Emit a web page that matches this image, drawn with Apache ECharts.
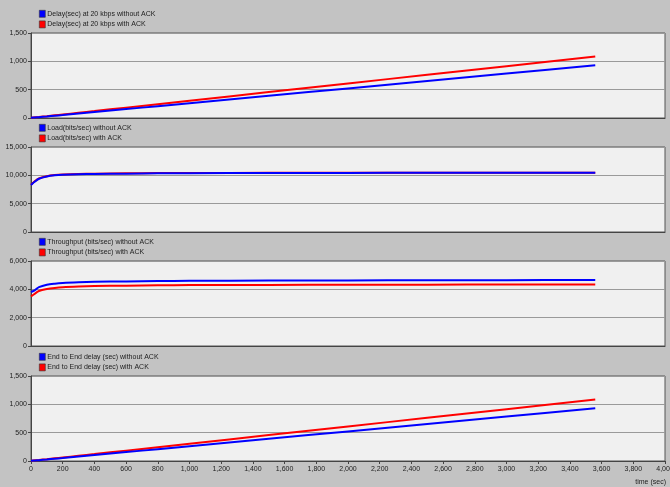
<!DOCTYPE html>
<html>
<head>
<meta charset="utf-8">
<script src="https://cdn.jsdelivr.net/npm/echarts@6/dist/echarts.min.js"></script>
<style>
  html, body { margin: 0; padding: 0; background: #c3c3c3; }
  #chart { width: 670px; height: 487px; }
</style>
</head>
<body>
<div id="chart"></div>
<script>
// Simulation time samples (sec)
const timeSec = [0, 25, 50, 100, 150, 200, 300, 400, 600, 800, 1000, 1500, 2000, 2500, 3000, 3560];

// Delay (sec) at 20 kbps
const delayNoAck   = [5, 10, 15, 27, 40, 52, 78, 104, 157, 209, 261, 392, 522, 653, 784, 930];
const delayAck     = [5, 12, 18, 32, 47, 62, 92, 122, 183, 244, 305, 457, 610, 762, 914, 1085];

// Load (bits/sec)
const loadNoAck    = [8300, 8900, 9400, 9800, 10000, 10100, 10200, 10250, 10300, 10350, 10380, 10420, 10430, 10440, 10440, 10450];
const loadAck      = [8350, 9000, 9450, 9850, 10050, 10150, 10250, 10300, 10350, 10400, 10420, 10440, 10450, 10450, 10450, 10460];

// Throughput (bits/sec)
const thrNoAck     = [3800, 3950, 4150, 4320, 4400, 4450, 4500, 4530, 4560, 4580, 4600, 4620, 4630, 4640, 4650, 4660];
const thrAck       = [3500, 3700, 3880, 4020, 4100, 4150, 4200, 4230, 4260, 4280, 4300, 4310, 4320, 4330, 4340, 4350];

// End to End delay (sec)
const e2eNoAck     = [5, 10, 15, 27, 40, 52, 78, 104, 157, 209, 261, 392, 522, 653, 784, 930];
const e2eAck       = [5, 12, 18, 32, 47, 62, 92, 122, 183, 244, 305, 457, 610, 762, 914, 1085];

const panels = [
  { names: ['Delay(sec) at 20 kbps without ACK', 'Delay(sec) at 20 kbps with ACK'], blue: delayNoAck, red: delayAck, max: 1500, interval: 500 },
  { names: ['Load(bits/sec) without ACK', 'Load(bits/sec) with ACK'], blue: loadNoAck, red: loadAck, max: 15000, interval: 5000 },
  { names: ['Throughput (bits/sec) without ACK', 'Throughput (bits/sec) with ACK'], blue: thrNoAck, red: thrAck, max: 6000, interval: 2000 },
  { names: ['End to End delay (sec) without ACK', 'End to End delay (sec) with ACK'], blue: e2eNoAck, red: e2eAck, max: 1500, interval: 500 }
];

const FONT = "'Liberation Sans', Arial, sans-serif";
const gridTops = [33, 147, 261, 376];
const gridH = 85;
const fmt = v => Math.round(v).toLocaleString('en-US');
const pairs = arr => arr.map((v, i) => [timeSec[i], v]);

const grid = [], xAxis = [], yAxis = [], legend = [], series = [];
panels.forEach((p, i) => {
  const last = i === panels.length - 1;
  grid.push({
    left: 31, right: 5, top: gridTops[i], height: gridH,
    containLabel: false, outerBoundsMode: 'none',
    show: true, backgroundColor: '#f0f0f0', borderColor: '#555', borderWidth: 1
  });
  xAxis.push({
    type: 'value', gridIndex: i, min: 0, max: 4000, interval: 200,
    axisLine: { show: true, onZero: false, lineStyle: { color: '#444', width: 1 } },
    axisTick: { show: last, length: 3, lineStyle: { color: '#444' } },
    axisLabel: { show: last, formatter: fmt, fontFamily: FONT, fontSize: 7, color: '#222', margin: 5, hideOverlap: false },
    splitLine: { show: false }
  });
  yAxis.push({
    type: 'value', gridIndex: i, min: 0, max: p.max, interval: p.interval,
    axisLine: { show: true, lineStyle: { color: '#444', width: 1 } },
    axisTick: { show: true, length: 3, lineStyle: { color: '#444' } },
    axisLabel: { formatter: fmt, fontFamily: FONT, fontSize: 7, color: '#222', margin: 4 },
    splitLine: { show: true, lineStyle: { color: '#9a9a9a', width: 1 } }
  });
  legend.push({
    data: p.names, orient: 'vertical', left: 34, top: gridTops[i] - 28,
    itemWidth: 6, itemHeight: 7, itemGap: 3, icon: 'rect',
    itemStyle: { borderColor: '#333', borderWidth: 0.6 },
    textStyle: { fontFamily: FONT, fontSize: 7, color: '#222', padding: [0, 0, 0, -3] },
    selectedMode: false
  });
  series.push({
    name: p.names[1], type: 'line', xAxisIndex: i, yAxisIndex: i,
    data: pairs(p.red), showSymbol: false, symbol: 'none', smooth: 0.3,
    lineStyle: { color: '#ff0000', width: 2 }, itemStyle: { color: '#ff0000' }, z: 2
  });
  series.push({
    name: p.names[0], type: 'line', xAxisIndex: i, yAxisIndex: i,
    data: pairs(p.blue), showSymbol: false, symbol: 'none', smooth: 0.3,
    lineStyle: { color: '#0000ff', width: 2 }, itemStyle: { color: '#0000ff' }, z: 3
  });
});

const chart = echarts.init(document.getElementById('chart'), null, { renderer: 'canvas' });
chart.setOption({
  backgroundColor: '#c3c3c3',
  animation: false,
  grid, xAxis, yAxis, legend, series,
  graphic: [{
    type: 'text', right: 4, bottom: 1,
    style: { text: 'time (sec)', fontFamily: FONT, fontSize: 7, fill: '#222' }
  }]
});
</script>
</body>
</html>
